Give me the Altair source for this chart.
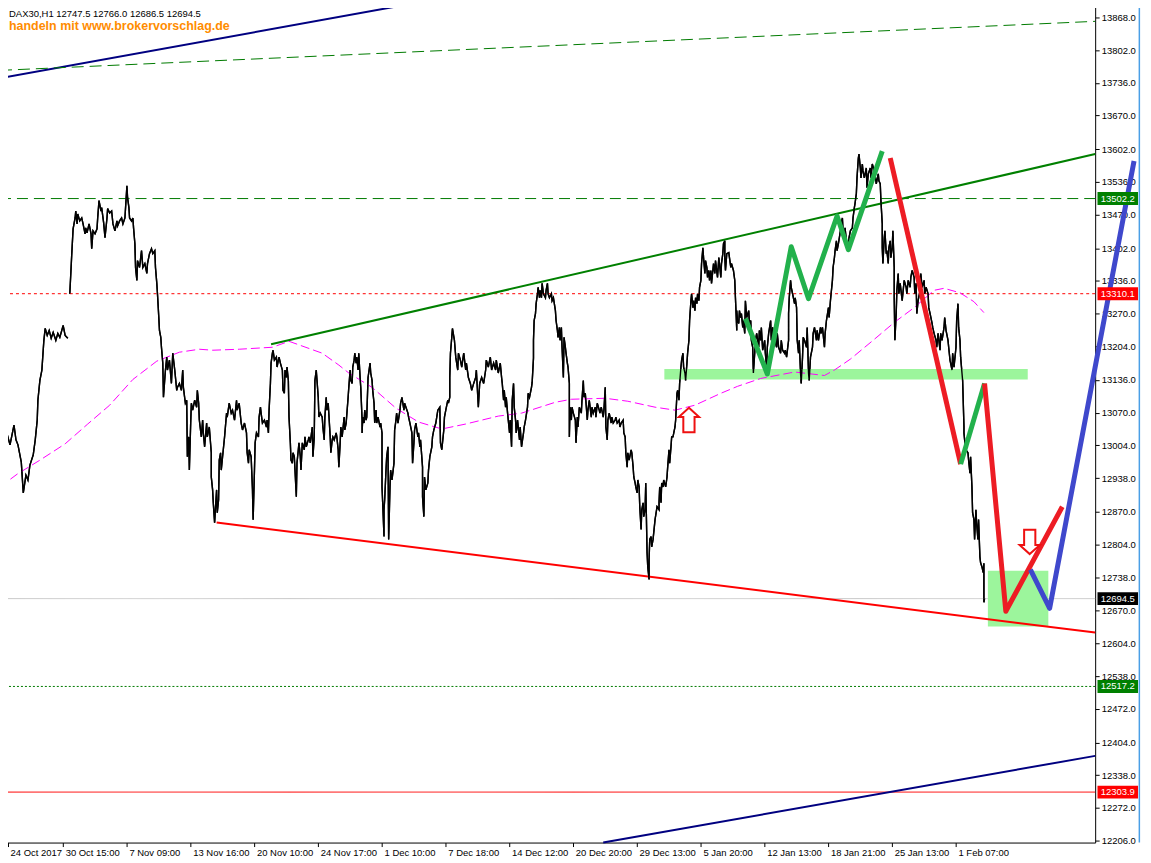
import altair as alt
import pandas as pd

# ---------------- data (x = H1 bar number, y = DAX price) ----------------
HEADER = "DAX30,H1  12747.5 12766.0 12686.5 12694.5"
BRAND = "handeln mit www.brokervorschlag.de"

TICK_BARS = [12, 95, 191, 287, 383, 479, 575, 671, 767, 863, 959, 1055, 1151, 1247, 1343, 1439]
TICK_LABELS = ["24 Oct 2017", "30 Oct 15:00", "7 Nov 09:00", "13 Nov 16:00", "20 Nov 10:00",
               "24 Nov 17:00", "1 Dec 10:00", "7 Dec 18:00", "14 Dec 12:00", "20 Dec 20:00",
               "29 Dec 13:00", "5 Jan 20:00", "12 Jan 13:00", "18 Jan 21:00", "25 Jan 13:00",
               "1 Feb 07:00"]
PRICE_TICKS = [13868, 13802, 13736, 13670, 13602, 13536, 13470, 13402, 13336, 13270, 13204,
               13136, 13070, 13004, 12938, 12870, 12804, 12738, 12670, 12604, 12538, 12472,
               12404, 12338, 12272, 12206]

PRICE_SEG1 = [(2,12995),(5,13015),(8,12985),(11,13025),(15,13005),(21,13045),(24,13015),(27,13005),
    (32,12970),(35,12908),(39,12944),(42,12934),(45,12964),(50,12985),(53,13015),(56,13055),(57,13095),
    (60,13135),(63,13156),(66,13216),(68,13240),(71,13226),(74,13236),(77,13220),(80,13232),(84,13216),
    (87,13230),(90,13222),(95,13246),(98,13226),(102,13220)]

PRICE_SEG2 = [(105,13310),(107,13363),(108,13391),(110,13441),(113,13463),(114,13477),(116,13451),(117,13471),
    (120,13457),(123,13463),(125,13451),(128,13431),(129,13443),(131,13433),(134,13451),(137,13431),(138,13401),
    (140,13437),(143,13431),(146,13441),(147,13463),(149,13498),(152,13477),(153,13484),(156,13453),(158,13423),
    (161,13463),(162,13482),(165,13473),(168,13477),(170,13451),(173,13437),(176,13457),(177,13447),(180,13457),
    (183,13463),(185,13451),(188,13463),(191,13528),(192,13504),(194,13484),(195,13463),(198,13457),(200,13463),
    (201,13443),(203,13411),(204,13363),(206,13337),(207,13377),(210,13363),(213,13397),(215,13363),(218,13371),
    (221,13351),(222,13371),(225,13391),(228,13401),(230,13391),(233,13397),(234,13363),(236,13331),(237,13310),
    (239,13262),(240,13236),(242,13222),(243,13202),(245,13170),(246,13101),(249,13156),(251,13182),(252,13156),
    (255,13176),(258,13129),(260,13190),(263,13156),(266,13115),(267,13121),(270,13129),(273,13115),(275,13156),
    (276,13121),(279,13089),(281,13095),(282,12981),(284,13021),(285,12954),(287,13049),(288,13089),(290,13075),
    (293,13095),(296,13081),(297,13115),(299,13089),(300,13055),(303,13021),(305,13055),(306,13029),(308,13001),
    (311,13049),(312,13021),(315,13041),(318,12989),(318,12940),(320,12914),(321,12888),(323,12848),(326,12914),
    (327,12868),(329,12894),(330,12974),(332,12989),(333,12954),(335,12981),(338,13021),(341,13069),(342,13061),
    (345,13089),(348,13069),(350,13075),(353,13055),(356,13095),(357,13075),(360,13089),(363,13049),(365,13035),
    (368,13049),(371,13029),(372,12989),(374,12968),(375,12995),(378,12981),(380,12914),(381,12854),(383,12954),
    (384,13009),(386,13029),(389,13021),(390,13061),(392,13081),(393,13069),(395,13049),(398,13055),(401,13041),
    (402,13055),(404,13029),(405,13075),(407,13129),(408,13170),(410,13190),(411,13196),(413,13176),(416,13182),
    (417,13162),(419,13176),(420,13182),(422,13170),(425,13156),(426,13115),(428,13109),(429,13156),(431,13141),
    (432,13162),(434,13135),(435,13061),(437,13009),(438,12974),(440,12968),(441,12989),(443,12981),(444,12954),
    (446,12900),(447,12968),(449,12995),(450,13009),(452,12981),(453,12954),(455,13009),(458,12995),(459,13021),
    (461,13001),(464,13015),(465,13021),(467,13009),(470,13041),(471,12981),(473,13021),(474,13135),(476,13156),
    (479,13101),(480,13061),(482,13069),(485,13061),(486,13041),(488,13015),(489,13061),(491,13101),(492,13075),
    (494,13089),(497,13021),(498,12989),(500,13015),(501,13021),(503,13015),(506,13029),(507,13021),(509,12995),
    (510,12960),(512,13009),(513,13041),(515,13021),(518,13061),(519,13035),(521,13049),(524,13101),(525,13121),
    (527,13156),(528,13135),(530,13129),(531,13162),(533,13176),(534,13190),(536,13170),(537,13182),(539,13156),
    (540,13190),(542,13141),(543,13121),(545,13055),(545,13029),(546,13061),(548,13049),(549,13075),(551,13055),
    (552,13061),(554,13141),(557,13170),(558,13150),(560,13135),(561,13115),(563,13089),(564,13049),(566,13075),
    (567,13049),(569,13061),(572,13041),(573,13049),(575,13029),(575,12920),(576,12888),(578,12820),(578,12874),
    (579,12894),(581,12954),(582,12981),(584,13001),(585,12814),(587,12920),(588,12954),(590,12934),(593,12968),
    (594,13035),(596,13055),(597,13069),(599,13049),(602,13075),(603,13089),(605,13101),(608,13075),(609,13089),
    (611,13081),(614,13069),(615,13061),(617,13049),(620,13029),(621,12968),(623,13009),(624,13035),(626,13049),
    (629,13021),(630,13029),(632,13001),(633,13015),(636,12960),(636,12900),(638,12860),(639,12940),(641,12914),
    (644,12928),(645,12954),(647,12981),(650,13001),(651,13021),(653,13035),(656,13049),(659,13075),(662,13081),
    (663,13009),(665,12995),(668,13035),(669,13061),(671,13075),(674,13095),(675,13089),(677,13101),(677,13141),
    (678,13190),(680,13222),(681,13240),(684,13216),(686,13182),(689,13156),(690,13190),(693,13176),(695,13162),
    (698,13190),(701,13156),(702,13170),(705,13141),(708,13129),(710,13115),(713,13129),(716,13141),(717,13156),
    (720,13081),(722,13129),(725,13141),(728,13129),(731,13156),(732,13176),(735,13162),(738,13182),(740,13156),
    (743,13170),(746,13156),(747,13176),(750,13150),(753,13170),(755,13141),(756,13129),(758,13095),(759,13115),
    (761,13081),(762,13101),(764,13069),(767,13029),(768,13055),(770,13001),(771,13095),(773,13129),(774,13081),
    (776,13055),(777,13029),(779,13055),(782,13015),(783,13041),(785,13001),(788,13029),(789,13041),(791,13055),
    (794,13081),(795,13109),(797,13101),(800,13121),(801,13131),(803,13180),(803,13216),(804,13256),(806,13270),
    (807,13290),(809,13310),(810,13323),(812,13302),(813,13317),(815,13302),(816,13331),(818,13310),(821,13302),
    (822,13317),(824,13331),(825,13310),(827,13302),(830,13310),(831,13296),(833,13302),(836,13276),(837,13256),
    (839,13236),(840,13222),(842,13242),(843,13216),(845,13242),(846,13202),(848,13141),(849,13222),(851,13202),
    (852,13190),(854,13170),(855,13162),(857,13129),(857,13021),(858,13081),(860,13055),(861,13081),(863,13069),
    (866,13055),(867,13009),(869,13061),(870,13041),(872,13081),(875,13069),(876,13095),(878,13135),(879,13101),
    (881,13109),(884,13055),(885,13075),(887,13095),(890,13061),(891,13081),(893,13069),(896,13081),(897,13061),
    (899,13089),(902,13075),(903,13069),(905,13081),(908,13061),(909,13075),(911,13121),(912,13041),(914,13015),
    (915,13055),(917,13069),(920,13049),(921,13061),(923,13049),(926,13055),(927,13061),(929,13049),(932,13055),
    (933,13041),(935,13049),(938,13055),(939,13029),(941,13021),(942,12989),(944,12960),(945,12989),(947,12974),
    (950,12995),(951,12989),(953,12960),(954,12940),(956,12928),(957,12920),(959,12908),(960,12934),(962,12920),
    (963,12880),(965,12834),(966,12874),(968,12888),(969,12860),(971,12874),(972,12928),(974,12787),(975,12759),
    (977,12733),(977,12773),(978,12814),(980,12820),(981,12799),(983,12814),(986,12854),(989,12880),(992,12874),
    (992,12888),(993,12920),(995,12888),(996,12928),(998,12920),(999,12934),(1002,12920),(1004,12940),(1005,12960),
    (1007,12995),(1008,12968),(1010,13001),(1011,13021),(1013,13021),(1016,13041),(1017,13055),(1019,13109),
    (1020,13115),(1022,13095),(1023,13129),(1025,13162),(1026,13176),(1028,13190),(1029,13162),(1031,13150),
    (1032,13135),(1034,13170),(1035,13190),(1037,13216),(1038,13256),(1040,13296),(1041,13310),(1043,13282),
    (1044,13296),(1046,13276),(1047,13302),(1049,13290),(1050,13310),(1052,13296),(1053,13323),(1055,13337),
    (1056,13371),(1058,13403),(1059,13383),(1061,13351),(1062,13377),(1064,13363),(1065,13343),(1067,13357),
    (1068,13337),(1070,13357),(1071,13331),(1073,13357),(1074,13371),(1076,13351),(1077,13377),(1080,13343),
    (1082,13383),(1083,13371),(1085,13343),(1086,13371),(1088,13391),(1089,13411),(1091,13417),(1091,13383),
    (1092,13357),(1094,13391),(1097,13393),(1098,13383),(1100,13363),(1101,13371),(1104,13357),(1106,13337),
    (1107,13302),(1109,13236),(1109,13276),(1110,13256),(1112,13250),(1113,13276),(1115,13262),(1116,13270),
    (1118,13242),(1119,13256),(1121,13230),(1122,13296),(1124,13262),(1127,13276),(1128,13250),(1130,13256),
    (1131,13216),(1133,13202),(1134,13150),(1136,13190),(1137,13216),(1139,13230),(1142,13202),(1143,13236),
    (1145,13216),(1146,13242),(1148,13196),(1151,13216),(1152,13190),(1154,13162),(1155,13202),(1157,13230),
    (1160,13256),(1161,13216),(1163,13242),(1164,13230),(1166,13216),(1169,13202),(1170,13230),(1172,13202),
    (1175,13190),(1176,13216),(1178,13196),(1181,13190),(1182,13196),(1184,13182),(1187,13216),(1187,13270),
    (1188,13302),(1190,13337),(1191,13323),(1193,13310),(1196,13290),(1197,13302),(1199,13282),(1200,13216),
    (1202,13190),(1203,13216),(1205,13150),(1206,13129),(1208,13182),(1209,13222),(1211,13216),(1214,13202),
    (1215,13242),(1217,13150),(1218,13135),(1220,13182),(1223,13202),(1224,13230),(1226,13242),(1229,13216),
    (1230,13236),(1232,13216),(1235,13242),(1236,13230),(1238,13242),(1241,13202),(1242,13230),(1244,13256),
    (1247,13282),(1248,13262),(1250,13296),(1251,13310),(1253,13337),(1254,13363),(1256,13383),(1257,13397),
    (1259,13417),(1260,13397),(1262,13411),(1265,13437),(1266,13451),(1268,13463),(1269,13437),(1271,13423),
    (1272,13443),(1274,13417),(1277,13403),(1278,13423),(1280,13437),(1283,13443),(1284,13463),(1286,13484),
    (1287,13492),(1289,13512),(1290,13544),(1292,13584),(1293,13592),(1295,13564),(1296,13544),(1298,13572),
    (1299,13558),(1301,13544),(1304,13564),(1305,13524),(1307,13552),(1310,13564),(1311,13544),(1313,13572),
    (1316,13558),(1317,13552),(1319,13532),(1322,13552),(1323,13538),(1325,13532),(1326,13498),(1328,13451),
    (1328,13403),(1329,13371),(1331,13423),(1332,13437),(1334,13391),(1335,13397),(1337,13371),(1338,13403),
    (1340,13417),(1341,13383),(1343,13403),(1344,13437),(1346,13363),(1346,13302),(1347,13216),(1349,13270),
    (1350,13317),(1352,13351),(1353,13310),(1355,13331),(1358,13296),(1359,13310),(1361,13337),(1364,13323),
    (1365,13310),(1367,13337),(1370,13323),(1371,13343),(1373,13357),(1376,13343),(1377,13310),(1379,13331),
    (1380,13270),(1382,13296),(1385,13317),(1386,13351),(1388,13323),(1391,13337),(1392,13310),(1394,13323),
    (1397,13310),(1398,13282),(1400,13270),(1403,13250),(1404,13242),(1406,13230),(1409,13216),(1410,13202),
    (1412,13230),(1415,13196),(1416,13230),(1418,13216),(1421,13242),(1422,13262),(1424,13236),(1427,13216),
    (1428,13202),(1430,13176),(1433,13156),(1434,13190),(1436,13162),(1439,13202),(1440,13256),(1442,13290),
    (1443,13242),(1445,13216),(1446,13182),(1448,13150),(1449,13135),(1451,13041),(1451,13029),(1452,13015),
    (1454,12995),(1457,12989),(1458,12974),(1460,12948),(1461,12981),(1463,12920),(1464,12868),(1466,12854),
    (1467,12814),(1469,12874),(1470,12848),(1472,12814),(1473,12854),(1475,12779),(1476,12767),(1478,12759),
    (1480,12747),(1481,12766),(1481,12687),(1482,12695)]

MA_PATH = [(0,12920),(26,12946),(60,12974),(98,13007),(132,13047),(165,13085),(200,13137),(236,13174),
    (270,13192),(300,13198),(320,13196),(360,13198),(410,13202),(435,13214),(485,13190),(510,13166),(525,13150),
    (560,13121),(596,13079),(630,13051),(665,13037),(701,13047),(750,13063),(785,13069),(836,13091),(860,13097),
    (911,13099),(945,13093),(986,13081),(1016,13075),(1046,13085),(1085,13109),(1110,13123),(1145,13139),
    (1196,13152),(1241,13145),(1256,13156),(1280,13178),(1316,13218),(1346,13252),(1376,13282),(1406,13317),
    (1421,13321),(1445,13312),(1466,13294),(1481,13272)]

TL_NAVY_TOP = [(0, 13745), (638, 13900)]
TL_GREEN_DASH = [(0, 13761), (1648.5, 13860)]
TL_GREEN = [(408, 13208), (1648.5, 13592)]
TL_RED = [(326, 12848), (1648.5, 12626)]
TL_NAVY_BOTTOM = [(908, 12202), (1648.5, 12377)]

GREEN_ZZ1 = [(1122,13260),(1155,13148),(1191,13405),(1217,13300),(1260,13467),(1277,13399),(1328,13598)]
RED_ZZ1 = [(1340,13584),(1446,12966)]
GREEN_ZZ2 = [(1446,12966),(1482,13129)]
RED_ZZ2 = [(1482,13129),(1514,12669),(1599,12880)]
BLUE_ZZ = [(1551,12753),(1580,12675),(1707,13578)]

SUPPORT_BAND = {"b0": 1000, "b1": 1547, "p0": 13137, "p1": 13158}
TARGET_BOX = {"b0": 1487, "b1": 1578, "p0": 12638, "p1": 12751}

ARROWS_UP = [(1037, 13055)]
ARROWS_DOWN = [(1550, 12809)]

LEVELS = [13502.2, 13310.1, 12694.5, 12517.2, 12303.9]
LEVEL_COLORS = ["#007a00", "#ff0000", "#c8c8c8", "#007a00", "#ff0000"]
LEVEL_DASH = [[11, 6], [3, 3], [1, 0], [2, 2], [1, 0]]
TAG_COLORS = ["#008000", "#ff0000", "#000000", "#008000", "#ff0000"]
WINDOW_EDGE_BAR = 1715

# ---------------- scales & shared axes ----------------
X_DOMAIN = [0, 1648.5]
Y_DOMAIN = [12202, 13900]
xs = alt.Scale(domain=X_DOMAIN, nice=False, zero=False)
ys = alt.Scale(domain=Y_DOMAIN, nice=False, zero=False)
FONT = "Liberation Sans"

label_expr = "%s[indexof(%s, datum.value)]" % (
    "[" + ",".join("'%s'" % s for s in TICK_LABELS) + "]",
    "[" + ",".join(str(v) for v in TICK_BARS) + "]",
)
AX = alt.Axis(orient="bottom", values=TICK_BARS, labelExpr=label_expr, title=None,
              tickSize=4, labelAlign="left", labelBaseline="top", labelPadding=1,
              labelOffset=2, labelFlush=False, labelOverlap=False, grid=False)
AY = alt.Axis(orient="right", values=PRICE_TICKS, format=".1f", title=None,
              tickSize=4, labelAlign="left", labelBaseline="middle", labelPadding=2,
              labelFlush=False, labelOverlap=False, grid=False)


def X(field):
    return alt.X(field, type="quantitative", scale=xs, axis=AX)


def Y(field):
    return alt.Y(field, type="quantitative", scale=ys, axis=AY)


def path_df(points, seg=0):
    df = pd.DataFrame(points, columns=["bar", "price"])
    df["seg"] = seg
    return df


def line_layer(points, color, width, dash=None, cap="butt"):
    df = path_df(points)
    df["i"] = range(len(df))
    kw = dict(color=color, strokeWidth=width, strokeCap=cap, strokeJoin="round")
    if dash:
        kw["strokeDash"] = dash
    return alt.Chart(df).mark_line(**kw).encode(x=X("bar"), y=Y("price"), order="i:Q")


layers = []

# price path (first layer, carries the axes)
price_df = pd.concat([path_df(PRICE_SEG1, 0), path_df(PRICE_SEG2, 1)], ignore_index=True)
price_df["i"] = range(len(price_df))
price_layer = alt.Chart(price_df).mark_line(color="black", strokeWidth=1.4, strokeJoin="miter").encode(
    x=X("bar"), y=Y("price"), detail="seg:N", order="i:Q")

# horizontal level lines
level_layers = []
for p, c, d in zip(LEVELS, LEVEL_COLORS, LEVEL_DASH):
    level_layers.append(
        alt.Chart(pd.DataFrame({"price": [p]})).mark_rule(color=c, strokeWidth=1, strokeDash=d)
        .encode(y=Y("price"))
    )

# support band and target box
band = pd.DataFrame([SUPPORT_BAND, TARGET_BOX])
band_layer = alt.Chart(band).mark_rect(color="#9cf59c", opacity=1).encode(
    x=X("b0"), x2="b1:Q", y=Y("p0"), y2="p1:Q")

layers.append(price_layer)
layers.extend(level_layers)
layers.append(band_layer)

# trend lines
layers.append(line_layer(TL_NAVY_TOP, "#000080", 2))
layers.append(line_layer(TL_GREEN_DASH, "#007a00", 1, dash=[12, 6]))
layers.append(line_layer(TL_GREEN, "#008000", 2))
layers.append(line_layer(TL_RED, "#ff0000", 2))
layers.append(line_layer(TL_NAVY_BOTTOM, "#000080", 2))

# moving average
layers.append(line_layer(MA_PATH, "#ff00ff", 1, dash=[9, 4]))

# price again on top of band (keeps black line visible like the reference)
layers.append(price_layer)

# thick hand-drawn scenario lines
layers.append(line_layer(GREEN_ZZ1, "#22b14c", 5))
layers.append(line_layer(RED_ZZ1, "#ed1c24", 5))
layers.append(line_layer(GREEN_ZZ2, "#22b14c", 5))
layers.append(line_layer(RED_ZZ2, "#ed1c24", 5))
layers.append(line_layer(BLUE_ZZ, "#3f48cc", 5))

# arrows
UP = "M0,-1L0.83,-0.25L0.46,-0.25L0.46,1L-0.46,1L-0.46,-0.25L-0.83,-0.25Z"
DOWN = "M0,1L0.83,0.25L0.46,0.25L0.46,-1L-0.46,-1L-0.46,0.25L-0.83,0.25Z"
for pts, shape in ((ARROWS_UP, UP), (ARROWS_DOWN, DOWN)):
    layers.append(
        alt.Chart(path_df(pts)).mark_point(shape=shape, size=600, filled=True, fill="white",
                                           stroke="#ee1111", strokeWidth=2, opacity=1)
        .encode(x=X("bar"), y=Y("price"))
    )

# price tags on the right axis
tags = pd.DataFrame({"price": LEVELS, "color": TAG_COLORS})
tags["lo"] = tags["price"] - 13
tags["hi"] = tags["price"] + 13
tags["b0"] = 1652
tags["b1"] = 1713
tags["bm"] = 1682.5
tags["txt"] = tags["price"].map(lambda v: "%.1f" % v)
layers.append(
    alt.Chart(tags).mark_rect().encode(
        x=X("b0"), x2="b1:Q", y=Y("lo"), y2="hi:Q", color=alt.Color("color:N", scale=None))
)
layers.append(
    alt.Chart(tags).mark_text(color="white", font=FONT, fontSize=9.5, align="center", baseline="middle")
    .encode(x=X("bm"), y=Y("price"), text="txt:N")
)

# window edge line at the far right
layers.append(
    alt.Chart(pd.DataFrame({"bar": [WINDOW_EDGE_BAR]})).mark_rule(color="#4a9fe6", strokeWidth=1.5)
    .encode(x=X("bar"))
)

# header texts
layers.append(
    alt.Chart(pd.DataFrame({"t": [HEADER]})).mark_text(
        align="left", baseline="middle", font=FONT, fontSize=9.5, color="black")
    .encode(x=alt.value(9), y=alt.value(12.5), text="t:N")
)
layers.append(
    alt.Chart(pd.DataFrame({"t": [BRAND]})).mark_text(
        align="left", baseline="middle", font=FONT, fontSize=12.5, fontWeight="bold", color="#ff8c00")
    .encode(x=alt.value(9), y=alt.value(25), text="t:N")
)

chart = alt.layer(*layers).properties(
    width=1099, height=844,
    autosize=alt.AutoSizeParams(type="none"),
    padding={"left": -8, "top": -8, "right": 48, "bottom": 17},
).configure_view(strokeWidth=0).configure_axis(
    labelFont=FONT, labelFontSize=9.5, labelColor="black",
    domainColor="black", tickColor="black", domainWidth=1, tickWidth=1,
)

chart.save("out.html", embed_options={"renderer": "svg", "actions": False})
